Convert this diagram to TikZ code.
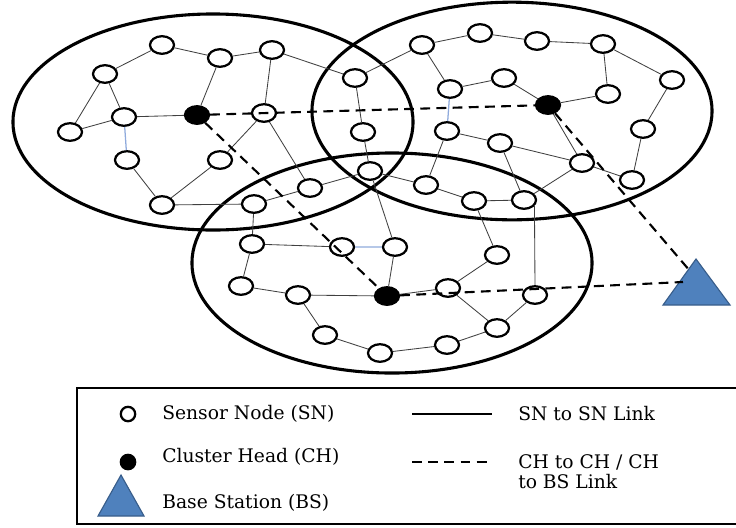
\documentclass[tikz,border=0pt]{standalone}
\usepackage{fontspec}
\setmainfont{DejaVu Serif}
\usepackage{xcolor}
\definecolor{bsblue}{HTML}{4F81BD}
\definecolor{bsedge}{HTML}{385D8A}
\definecolor{linkblue}{HTML}{8FAADC}
\usepackage{tikz}
\usetikzlibrary{shapes.geometric}

\begin{document}
\begin{tikzpicture}[x=0.025cm, y=-0.025cm,
  sn/.style={ellipse, draw, line width=1.6pt, fill=white,
    minimum width=0.6cm, minimum height=0.44cm, inner sep=0pt},
  ch/.style={sn, fill=black},
  lgnode/.style={circle, draw, line width=1.6pt, fill=white,
    minimum size=0.36cm, inner sep=0pt},
  link/.style={line width=0.6pt, black!75},
  blink/.style={line width=0.9pt, linkblue},
  chlink/.style={line width=1.5pt, dash pattern=on 7pt off 4.5pt},
  zone/.style={line width=2.2pt},
  lbl/.style={font=\fontsize{13.3}{14.5}\selectfont, anchor=west, inner sep=0pt}]

  \useasboundingbox (0,0) rectangle (736,527);

  % Cluster zones
  \draw[zone] (213,122) ellipse [x radius=5cm, y radius=2.7cm];
  \draw[zone] (512,111) ellipse [x radius=5cm, y radius=2.72cm];
  \draw[zone] (392,263) ellipse [x radius=5cm, y radius=2.75cm];

  % Base station
  \fill[bsblue, draw=bsedge, line width=0.8pt] (663,305) -- (696,259) -- (730,305) -- cycle;
  \coordinate (bsa) at (690,271);
  \coordinate (bsb) at (683,282);

  % Cluster 1 (left)
  \node[sn] (a1)  at (162,45)  {};
  \node[sn] (a2)  at (220,58)  {};
  \node[sn] (a3)  at (105,74)  {};
  \node[sn] (a4)  at (124,117) {};
  \node[ch] (h1)  at (197,115) {};
  \node[sn] (a5)  at (70,132)  {};
  \node[sn] (a6)  at (127,160) {};
  \node[sn] (a7)  at (220,160) {};
  \node[sn] (a8)  at (162,205) {};
  \node[sn] (a9)  at (264,113) {};
  \node[sn] (a10) at (272,50)  {};
  \node[sn] (a11) at (254,204) {};

  % Cluster 2 (right)
  \node[sn] (b1)  at (355,78)  {};
  \node[sn] (b2)  at (422,45)  {};
  \node[sn] (b3)  at (480,33)  {};
  \node[sn] (b4)  at (450,89)  {};
  \node[sn] (b5)  at (363,132) {};
  \node[sn] (b6)  at (447,131) {};
  \node[sn] (b7)  at (370,171) {};
  \node[sn] (b8)  at (426,185) {};
  \node[sn] (b9)  at (474,201) {};
  \node[sn] (b10) at (537,41)  {};
  \node[sn] (b11) at (603,44)  {};
  \node[sn] (b12) at (504,78)  {};
  \node[sn] (b13) at (608,94)  {};
  \node[ch] (h2)  at (548,105) {};
  \node[sn] (b14) at (672,80)  {};
  \node[sn] (b15) at (643,129) {};
  \node[sn] (b16) at (500,143) {};
  \node[sn] (b17) at (582,163) {};
  \node[sn] (b18) at (632,180) {};
  \node[sn] (b19) at (524,200) {};

  % Cluster 3 (bottom)
  \node[sn] (c1)  at (310,188) {};
  \node[sn] (c2)  at (252,244) {};
  \node[sn] (c3)  at (342,247) {};
  \node[sn] (c4)  at (395,247) {};
  \node[sn] (c5)  at (241,286) {};
  \node[sn] (c6)  at (298,295) {};
  \node[ch] (h3)  at (387,296) {};
  \node[sn] (c7)  at (448,288) {};
  \node[sn] (c8)  at (497,255) {};
  \node[sn] (c9)  at (535,295) {};
  \node[sn] (c10) at (497,328) {};
  \node[sn] (c11) at (447,345) {};
  \node[sn] (c12) at (380,353) {};
  \node[sn] (c13) at (325,335) {};

  % SN to SN links
  \draw[link] (a1) -- (a2)  (a1) -- (a3)  (a3) -- (a4)  (a3) -- (a5)
    (a5) -- (a4)  (a4) -- (h1)  (a2) -- (h1)  (a6) -- (a8)  (a8) -- (a7)
    (a7) -- (a9)  (a9) -- (c1)  (a8) -- (a11)  (a2) -- (a10)  (a10) -- (a9);
  \draw[link] (a10) -- (b1)  (b1) -- (b2)  (b2) -- (b3)  (b2) -- (b4)
    (b4) -- (b12)  (b1) -- (b5)  (b5) -- (b7)  (b6) -- (b8)  (b6) -- (b16)
    (b16) -- (b17)  (b16) -- (b19)  (b7) -- (c1)  (b7) -- (b8)  (b8) -- (b9)
    (b9) -- (b19)  (b19) -- (b17)  (b3) -- (b10)  (b10) -- (b11)
    (b11) -- (b13)  (b11) -- (b14)  (b14) -- (b15)  (b15) -- (b18)
    (b12) -- (h2)  (h2) -- (b13)  (h2) -- (b17)  (b17) -- (b18);
  \draw[link] (b7) -- (c4)  (a11) -- (c2)  (a11) -- (c1)  (c2) -- (c3)
    (c4) -- (h3)  (c2) -- (c5)  (c5) -- (c6)  (c6) -- (h3)  (c6) -- (c13)
    (c13) -- (c12)  (c12) -- (c11)  (h3) -- (c7)  (c7) -- (c8)  (c7) -- (c10)
    (b9) -- (c8)  (b19.-30) -- (c9.north)  (c9) -- (c10)  (c10) -- (c11);
  \draw[blink] (a4) -- (a6)  (b4) -- (b6)  (c3) -- (c4);

  % CH links
  \draw[chlink] (h1) -- (h2)  (h1) -- (h3)  (h2) -- (bsa)  (h3) -- (bsb);

  % Legend
  \draw[line width=1.5pt] (77,388) rectangle (745,524);
  \node[lgnode] (lgsn) at (128,414) {};
  \node[lgnode, fill=black] (lgch) at (128,462) {};
  \fill[bsblue, draw=bsedge, line width=0.8pt] (98,516) -- (121,475) -- (144,516) -- cycle;
  \node[lbl] (tsn) at (162,414) {Sensor Node (SN)};
  \node[lbl] (tch) at (162,457) {Cluster Head (CH)};
  \node[lbl] (tbs) at (162,503) {Base Station (BS)};
  \coordinate (ls1) at (412,414);
  \coordinate (ls2) at (492,414);
  \draw[line width=0.8pt] (ls1) -- (ls2);
  \node[lbl] (tsl) at (518,414) {SN to SN Link};
  \coordinate (ld1) at (412,462);
  \coordinate (ld2) at (492,462);
  \draw[chlink] (ld1) -- (ld2);
  \node[lbl, align=left, anchor=north west] (tcl) at (518,454) {CH to CH / CH\\to BS Link};

\end{tikzpicture}
\end{document}
